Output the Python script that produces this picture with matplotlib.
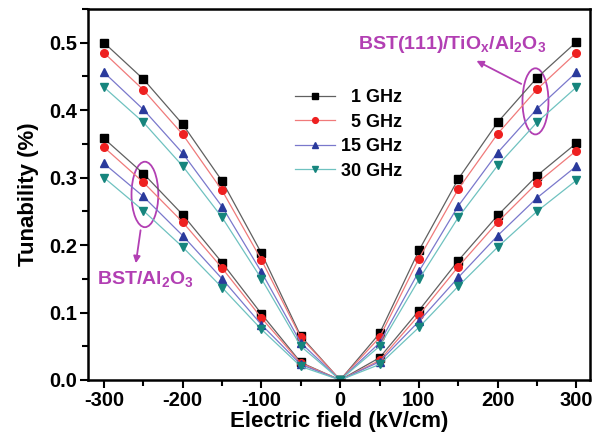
import matplotlib
matplotlib.use("Agg")
import matplotlib.pyplot as plt
from matplotlib.patches import Ellipse
from matplotlib.ticker import MultipleLocator, FormatStrFormatter

plt.rcParams['font.family'] = ['Liberation Sans', 'DejaVu Sans']
plt.rcParams['font.weight'] = 'bold'
plt.rcParams['axes.unicode_minus'] = False
plt.rcParams['mathtext.fontset'] = 'custom'
plt.rcParams['mathtext.bf'] = 'Liberation Sans:bold'
plt.rcParams['mathtext.rm'] = 'Liberation Sans:bold'
plt.rcParams['mathtext.default'] = 'bf'

field = [-300, -250, -200, -150, -100, -50, 0, 50, 100, 150, 200, 250, 300]
freqs = ["\u20071 GHz", "\u20075 GHz", "15 GHz", "30 GHz"]

# BST(111)/TiOx/Al2O3
tio_1 = [0.500, 0.446, 0.379, 0.295, 0.188, 0.065, 0.0, 0.069, 0.192, 0.298, 0.382, 0.448, 0.501]
tio_5 = [0.485, 0.430, 0.364, 0.281, 0.178, 0.063, 0.0, 0.063, 0.180, 0.283, 0.365, 0.431, 0.485]
tio_15 = [0.456, 0.401, 0.336, 0.257, 0.160, 0.055, 0.0, 0.055, 0.161, 0.258, 0.337, 0.402, 0.456]
tio_30 = [0.434, 0.382, 0.317, 0.241, 0.150, 0.050, 0.0, 0.050, 0.149, 0.241, 0.318, 0.382, 0.434]

# BST/Al2O3
al_1 = [0.358, 0.306, 0.245, 0.174, 0.098, 0.026, 0.0, 0.033, 0.103, 0.177, 0.244, 0.303, 0.351]
al_5 = [0.345, 0.293, 0.234, 0.166, 0.092, 0.025, 0.0, 0.029, 0.096, 0.168, 0.234, 0.292, 0.340]
al_15 = [0.321, 0.272, 0.214, 0.150, 0.082, 0.023, 0.0, 0.027, 0.087, 0.152, 0.214, 0.270, 0.317]
al_30 = [0.300, 0.251, 0.197, 0.137, 0.075, 0.020, 0.0, 0.023, 0.078, 0.139, 0.197, 0.250, 0.296]

markers = ['s', 'o', '^', 'v']
mcolors = ['#000000', '#ee2020', '#2a3a9c', '#16857d']
lcolors = ['#606060', '#f07a7a', '#7a78cc', '#6fc2c0']
purple = '#b23fb3'

fig = plt.figure(figsize=(6.0, 4.46), dpi=100)
ax = fig.add_axes([0.147, 0.148, 0.836, 0.832])

for i, (a, b) in enumerate(zip([tio_1, tio_5, tio_15, tio_30], [al_1, al_5, al_15, al_30])):
    ax.plot(field, a, marker=markers[i], color=lcolors[i], mfc=mcolors[i], mec=mcolors[i],
            lw=0.9, ms=5.5, label=freqs[i])
    ax.plot(field, b, marker=markers[i], color=lcolors[i], mfc=mcolors[i], mec=mcolors[i],
            lw=0.9, ms=5.5)

ax.set_xlim(-320, 317)
ax.set_ylim(0, 0.55)
ax.set_xticks([-300, -200, -100, 0, 100, 200, 300])
ax.xaxis.set_minor_locator(MultipleLocator(50))
ax.yaxis.set_major_locator(MultipleLocator(0.1))
ax.yaxis.set_minor_locator(MultipleLocator(0.05))
ax.yaxis.set_major_formatter(FormatStrFormatter('%.1f'))
ax.tick_params(which='both', direction='out', width=1.5, labelsize=14.5, top=False, right=False)
ax.tick_params(which='major', length=6, pad=2)
ax.tick_params(which='minor', length=4)
for s in ax.spines.values():
    s.set_linewidth(1.8)

ax.set_xlabel('Electric field (kV/cm)', fontsize=16, fontweight='bold', labelpad=1)
ax.set_ylabel('Tunability (%)', fontsize=16, fontweight='bold', labelpad=7)

ax.legend(loc='upper left', bbox_to_anchor=(0.38, 0.828), frameon=False, markerscale=0.75,
          fontsize=13, handlelength=2.2, handletextpad=0.35, labelspacing=0.42, numpoints=1)

# sample group labels
ax.add_patch(Ellipse((-248, 0.275), 34, 0.097, fill=False, ec=purple, lw=1.3))
ax.annotate('', xy=(-260, 0.169), xytext=(-253, 0.226),
            arrowprops=dict(arrowstyle='-|>', color=purple, lw=1.3, mutation_scale=10))
ax.text(-309, 0.150, r'BST/Al$_2$O$_3$', color=purple, fontsize=14, fontweight='bold',
        ha='left', va='center')

ax.add_patch(Ellipse((248, 0.413), 33, 0.098, fill=False, ec=purple, lw=1.3))
ax.annotate('', xy=(170, 0.475), xytext=(233, 0.437),
            arrowprops=dict(arrowstyle='-|>', color=purple, lw=1.3, mutation_scale=10))
ax.text(262, 0.497, r'BST(111)/TiO$_x$/Al$_2$O$_3$', color=purple, fontsize=14,
        fontweight='bold', ha='right', va='center')

fig.savefig('out.png', dpi=100)
